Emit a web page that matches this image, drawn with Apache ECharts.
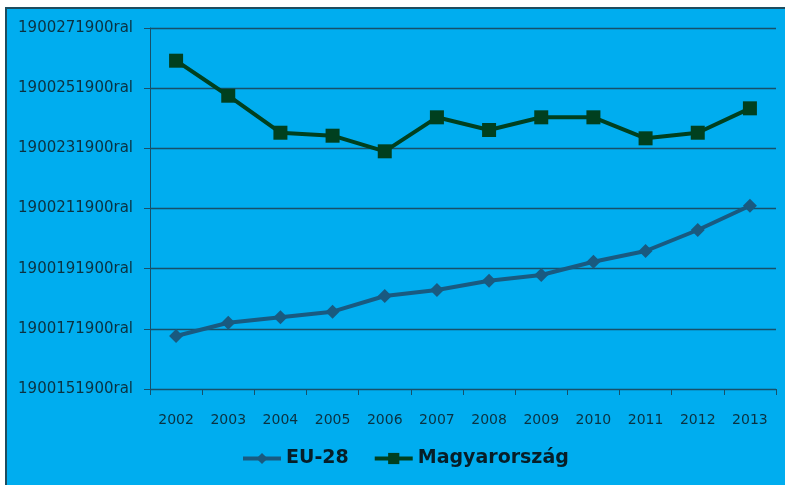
<!DOCTYPE html>
<html>
<head>
<meta charset="utf-8">
<script src="https://cdn.jsdelivr.net/npm/echarts@6/dist/echarts.min.js"></script>
<style>
    html, body { margin: 0; padding: 0; background: #ffffff; }
    #wrap { position: relative; width: 785px; height: 485px; overflow: hidden; }
    #bg {
        position: absolute; left: 5px; top: 7px; right: 0; bottom: 0;
        background: #00adef;
        border-top: 2px solid #1d4d60;
        border-left: 2px solid #1d4d60;
    }
    #chart { position: absolute; left: 0; top: 0; width: 785px; height: 485px; }
</style>
</head>
<body>
<div id="wrap">
    <div id="bg"></div>
    <div id="chart"></div>
</div>
<script>
const years = ['2002', '2003', '2004', '2005', '2006', '2007', '2008', '2009', '2010', '2011', '2012', '2013'];

const eu28 = [1900169520, 1900173940, 1900175730, 1900177600, 1900182810, 1900184810,
    1900187900, 1900189790, 1900194210, 1900197770, 1900204750, 1900212830];

const magyarorszag = [1900261030, 1900249390, 1900237090, 1900236100, 1900230910, 1900242210,
    1900237990, 1900242210, 1900242210, 1900235230, 1900237090, 1900245200];

const yTicks = [1900151900, 1900171900, 1900191900, 1900211900, 1900231900, 1900251900, 1900271900];

const lineColor = '#17506a';
const textColor = '#0a3242';

const chart = echarts.init(document.getElementById('chart'));

chart.setOption({
    backgroundColor: 'transparent',
    animation: false,
    grid: {
        left: 150,
        right: 9,
        top: 28,
        bottom: 96
    },
    legend: {
        left: 241,
        top: 449,
        padding: 0,
        itemWidth: 38,
        itemHeight: 14,
        itemGap: 24,
        lineStyle: { width: 4 },
        textStyle: {
            fontFamily: 'DejaVu Sans',
            fontWeight: 'bold',
            fontSize: 19,
            color: '#071e28'
        },
        data: ['EU-28', 'Magyarország']
    },
    xAxis: {
        type: 'category',
        data: years,
        boundaryGap: true,
        axisLine: { lineStyle: { color: lineColor, width: 1 } },
        axisTick: { show: true, length: 6, lineStyle: { color: lineColor } },
        axisLabel: {
            margin: 24,
            fontFamily: 'DejaVu Sans',
            fontSize: 14,
            color: textColor
        },
        splitLine: { show: false }
    },
    yAxis: {
        type: 'value',
        min: yTicks[0],
        max: yTicks[yTicks.length - 1],
        axisLine: { show: true, lineStyle: { color: lineColor, width: 1 } },
        axisTick: { show: true, length: 6, customValues: yTicks, lineStyle: { color: lineColor } },
        axisLabel: {
            customValues: yTicks,
            margin: 17,
            fontFamily: 'DejaVu Sans',
            fontSize: 15,
            color: textColor,
            formatter: v => v + 'ral'
        },
        splitLine: { show: true, lineStyle: { color: lineColor, width: 1.3 } }
    },
    series: [
        {
            name: 'EU-28',
            type: 'line',
            data: eu28,
            symbol: 'diamond',
            symbolSize: 14,
            color: '#195a80',
            lineStyle: { color: '#195a80', width: 4 },
            itemStyle: { color: '#195a80' }
        },
        {
            name: 'Magyarország',
            type: 'line',
            data: magyarorszag,
            symbol: 'rect',
            symbolSize: 14,
            color: '#00401f',
            lineStyle: { color: '#00401f', width: 4 },
            itemStyle: { color: '#00401f' }
        }
    ]
});
</script>
</body>
</html>
